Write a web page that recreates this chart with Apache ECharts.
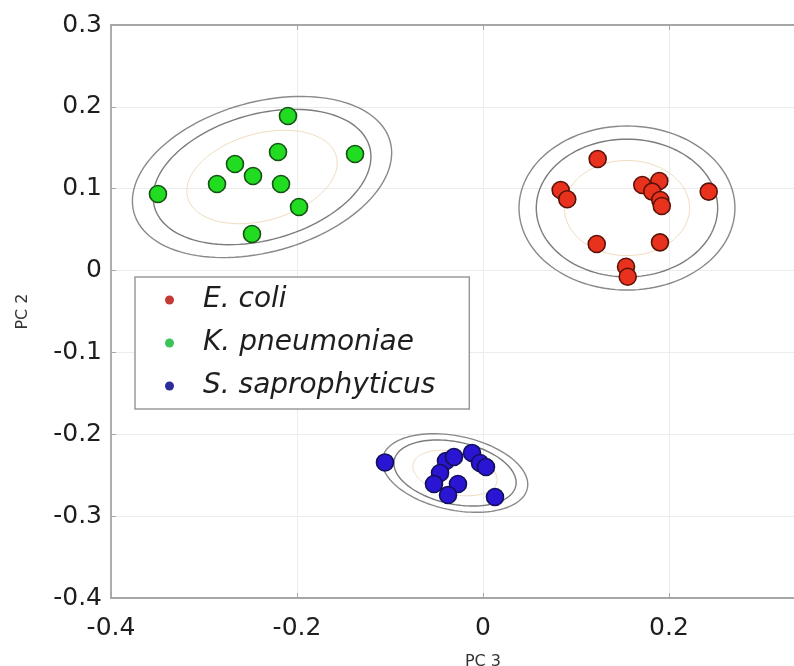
<!DOCTYPE html>
<html>
<head>
<meta charset="utf-8">
<script src="https://cdn.jsdelivr.net/npm/echarts@6/dist/echarts.min.js"></script>
<style>html,body{margin:0;padding:0;background:#fff}#chart{width:794px;height:666px}</style>
</head>
<body>
<div id="chart"></div>
<script>
// ---- data (PC 3, PC 2) ----
const seriesNames = ['E. coli', 'K. pneumoniae', 'S. saprophyticus'];
const eColi = [
  [0.1233, 0.1363], [0.0835, 0.0984], [0.0906, 0.0871], [0.1713, 0.1045],
  [0.1896, 0.1094], [0.1820, 0.0964], [0.1906, 0.0862], [0.1922, 0.0789],
  [0.2427, 0.0964], [0.1223, 0.0325], [0.1903, 0.0345], [0.1538, 0.0047],
  [0.1556, -0.0075]
];
const kPneumoniae = [
  [-0.2097, 0.1888], [-0.2204, 0.1449], [-0.1376, 0.1424], [-0.2667, 0.1302],
  [-0.2473, 0.1155], [-0.2860, 0.1058], [-0.2172, 0.1058], [-0.3495, 0.0936],
  [-0.1978, 0.0777], [-0.2484, 0.0447]
];
const sSaprophyticus = [
  [-0.1054, -0.2344], [-0.0398, -0.2326], [-0.0312, -0.2277], [-0.0462, -0.2473],
  [-0.0527, -0.2607], [-0.0269, -0.2607], [-0.0376, -0.2741], [-0.0118, -0.2228],
  [-0.0032, -0.2351], [0.0032, -0.2400], [0.0129, -0.2766]
];
// confidence ellipses: centre and two conjugate half-axis vectors (data units)
const ellipseCenters = [[0.1548, 0.0764], [-0.2376, 0.1143], [-0.0301, -0.2473]];
const ellipseAxisU = [[0.1161, 0.0], [0.1377, 0.0437], [0.0778, -0.0188]];
const ellipseAxisV = [[0.0, 0.1002], [-0.0217, 0.0882], [0.0083, 0.0442]];
const ellipseLevels = [0.58, 0.84, 1.0];
const xTicks = { min: -0.4, max: 0.4, interval: 0.2 };
const yTicks = { min: -0.4, max: 0.3, interval: 0.1 };

// ---- styles ----
const fillColors = ['#e8321e', '#22dc22', '#2a16d2'];
const edgeColors = ['#5a1208', '#145214', '#12105a'];
const legendColors = ['#c23a34', '#3cc45a', '#2c2c9c'];
const levelColors = ['#f0dcc0', '#7c7c7c', '#8a8a8a'];
const levelWidths = [1, 1.4, 1.4];

const chart = echarts.init(document.getElementById('chart'), null, { renderer: 'canvas' });

const ellipseSeries = ellipseLevels.map((lv, li) => ({
  type: 'custom',
  name: 'ellipse' + li,
  z: 1,
  silent: true,
  clip: true,
  data: ellipseCenters.map((c, gi) => [c[0], c[1], gi]),
  encode: { x: 0, y: 1 },
  renderItem: function (params, api) {
    const gi = api.value(2);
    const c = ellipseCenters[gi], u = ellipseAxisU[gi], v = ellipseAxisV[gi];
    const pts = [];
    const n = 120;
    for (let k = 0; k <= n; k++) {
      const t = 2 * Math.PI * k / n;
      const ct = Math.cos(t), st = Math.sin(t);
      pts.push(api.coord([
        c[0] + lv * (u[0] * ct + v[0] * st),
        c[1] + lv * (u[1] * ct + v[1] * st)
      ]));
    }
    return {
      type: 'polyline',
      shape: { points: pts },
      style: { stroke: levelColors[li], lineWidth: levelWidths[li], fill: null }
    };
  }
}));

const pointSets = [eColi, kPneumoniae, sSaprophyticus];
const scatterSeries = pointSets.map((d, i) => ({
  type: 'scatter',
  name: seriesNames[i],
  z: 3,
  symbol: 'circle',
  symbolSize: 17,
  data: d,
  itemStyle: { color: fillColors[i], borderColor: edgeColors[i], borderWidth: 1.6, opacity: 1 }
}));

const axisLineStyle = { color: '#a6a6a6', width: 1.8 };
const labelFont = { fontFamily: 'DejaVu Sans', fontSize: 25, color: '#1e1e1e' };

chart.setOption({
  animation: false,
  backgroundColor: '#ffffff',
  grid: { left: 111, top: 25, width: 744, height: 573, outerBoundsMode: 'none', containLabel: false },
  xAxis: [{
    type: 'value', position: 'bottom',
    min: xTicks.min, max: xTicks.max, interval: xTicks.interval,
    name: 'PC 3', nameLocation: 'middle', nameGap: 56,
    nameTextStyle: { fontFamily: 'DejaVu Sans', fontSize: 16, color: '#333' },
    axisLine: { show: true, onZero: false, lineStyle: axisLineStyle },
    axisTick: { show: true, inside: true, length: 5, lineStyle: { color: '#a6a6a6' } },
    axisLabel: Object.assign({ margin: 18 }, labelFont),
    splitLine: { show: true, lineStyle: { color: '#ececec', width: 1 } }
  }, {
    type: 'value', position: 'top',
    min: xTicks.min, max: xTicks.max, interval: xTicks.interval,
    axisLine: { show: true, onZero: false, lineStyle: axisLineStyle },
    axisTick: { show: true, inside: true, length: 5, lineStyle: { color: '#a6a6a6' } },
    axisLabel: { show: false },
    splitLine: { show: false }
  }],
  yAxis: {
    type: 'value',
    min: yTicks.min, max: yTicks.max, interval: yTicks.interval,
    name: 'PC 2', nameLocation: 'middle', nameGap: 80, nameRotate: 90,
    nameTextStyle: { fontFamily: 'DejaVu Sans', fontSize: 16, color: '#333' },
    axisLine: { show: true, onZero: false, lineStyle: axisLineStyle },
    axisTick: { show: true, inside: true, length: 5, lineStyle: { color: '#a6a6a6' } },
    axisLabel: Object.assign({ margin: 9 }, labelFont),
    splitLine: { show: true, lineStyle: { color: '#ececec', width: 1 } }
  },
  legend: {
    orient: 'vertical',
    left: 135, top: 277,
    padding: [8, 34, 8, 30],
    itemGap: 13,
    itemWidth: 9, itemHeight: 9,
    icon: 'circle',
    backgroundColor: '#ffffff',
    borderColor: '#9a9a9a', borderWidth: 1.5, borderRadius: 0,
    selectedMode: false,
    textStyle: { fontFamily: 'DejaVu Sans', fontStyle: 'italic', fontSize: 28, lineHeight: 30, color: '#1e1e1e', padding: [0, 0, 0, 24] },
    data: seriesNames.map((n, i) => ({ name: n, itemStyle: { color: legendColors[i], borderWidth: 0 } }))
  },
  series: ellipseSeries.concat(scatterSeries)
});
</script>
</body>
</html>
